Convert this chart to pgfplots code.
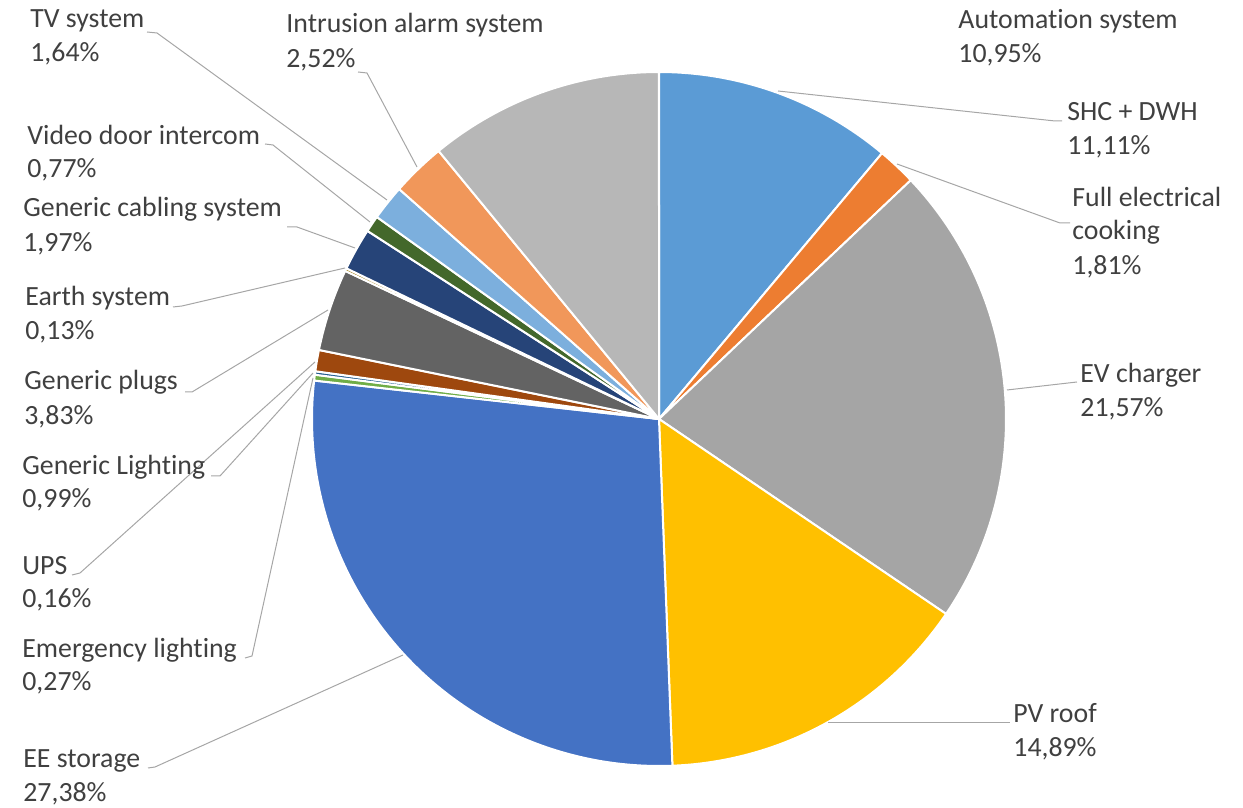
\documentclass[border=0pt]{standalone}
\usepackage{pgfplots}
\usepackage{pgfplotstable}
\pgfplotsset{compat=1.18}
\usepackage{fontspec}
\setmainfont{Carlito}[Ligatures=NoCommon]
\definecolor{c1}{HTML}{5B9BD5}
\definecolor{c2}{HTML}{ED7D31}
\definecolor{c3}{HTML}{A5A5A5}
\definecolor{c4}{HTML}{FFC000}
\definecolor{c5}{HTML}{4472C4}
\definecolor{c6}{HTML}{70AD47}
\definecolor{c7}{HTML}{255E91}
\definecolor{c8}{HTML}{9E480E}
\definecolor{c9}{HTML}{636363}
\definecolor{c10}{HTML}{997300}
\definecolor{c11}{HTML}{264478}
\definecolor{c12}{HTML}{43682B}
\definecolor{c13}{HTML}{7CAFDD}
\definecolor{c14}{HTML}{F1975A}
\definecolor{c15}{HTML}{B7B7B7}
\definecolor{txt}{HTML}{404040}
\definecolor{lead}{HTML}{A6A6A6}

% slices clockwise from 12 o'clock
\pgfplotstableread[col sep=comma]{
label,value,color
SHC + DWH,11.11,c1
Full electrical cooking,1.81,c2
EV charger,21.57,c3
PV roof,14.89,c4
EE storage,27.38,c5
Emergency lighting,0.27,c6
UPS,0.16,c7
Generic Lighting,0.99,c8
Generic plugs,3.83,c9
Earth system,0.13,c10
Generic cabling system,1.97,c11
Video door intercom,0.77,c12
TV system,1.64,c13
Intrusion alarm system,2.52,c14
Automation system,10.95,c15
}\piedata

\newcommand{\lab}{\fontsize{13.9}{16}\selectfont}

\begin{document}
\begin{tikzpicture}
\begin{axis}[
  x=0.5pt, y=0.5pt,
  xmin=0, xmax=1243, ymin=0, ymax=808,
  enlargelimits=false,
  hide axis, clip=false,
  at={(0,0)}, anchor=south west,
]
\pgfplotstablegetrowsof{\piedata}
\pgfmathtruncatemacro{\N}{\pgfplotsretval-1}
\xdef\cumangle{90}
\pgfplotsforeachungrouped \i in {0,...,\N}{%
  \pgfplotstablegetelem{\i}{value}\of\piedata \let\v\pgfplotsretval
  \pgfplotstablegetelem{\i}{color}\of\piedata \let\c\pgfplotsretval
  \pgfmathsetmacro{\a}{\cumangle}%
  \pgfmathsetmacro{\b}{\cumangle-\v*3.6/0.9999}%
  \edef\doslice{\noexpand\addplot[fill=\c, draw=white, line width=1pt, line join=round, domain=\b:\a, samples=90, smooth=false] ({659+347*cos(x)},{389+347*sin(x)}) -- (axis cs:659,389) -- cycle;}%
  \doslice
  \xdef\cumangle{\b}%
}

% leader lines
\begin{scope}[lead, line width=0.5pt]
\draw (axis cs:147,776) -- (axis cs:157,775) -- (axis cs:387,608);
\draw (axis cs:265,664) -- (axis cs:273,663) -- (axis cs:370,586);
\draw (axis cs:287,581) -- (axis cs:297,581) -- (axis cs:355,560);
\draw (axis cs:173,501) -- (axis cs:182,502) -- (axis cs:345,540);
\draw (axis cs:185,416) -- (axis cs:192,416) -- (axis cs:328,498);
\draw (axis cs:211,332) -- (axis cs:220,332) -- (axis cs:313,435);
\draw (axis cs:72,233) -- (axis cs:80,235) -- (axis cs:315,446);
\draw (axis cs:245,150) -- (axis cs:252,152) -- (axis cs:313,430);
\draw (axis cs:148,40) -- (axis cs:155,41) -- (axis cs:403,153);
\draw (axis cs:358,736) -- (axis cs:367,735) -- (axis cs:417,641);
\draw (axis cs:778,717) -- (axis cs:1055,687) -- (axis cs:1062,687);
\draw (axis cs:897,644) -- (axis cs:1060,585) -- (axis cs:1070,585);
\draw (axis cs:1007,418) -- (axis cs:1077,426);
\draw (axis cs:828,85) -- (axis cs:1010,85);
\end{scope}

% labels
\begin{scope}[every node/.style={anchor=base west, inner sep=0pt, text=txt, font=\lab}]
\node at (axis cs:30,780) {TV system};
\node at (axis cs:30,746) {1,64\%};
\node at (axis cs:286,775) {Intrusion alarm system};
\node at (axis cs:286,740) {2,52\%};
\node at (axis cs:958,779) {Automation system};
\node at (axis cs:958,745) {10,95\%};
\node at (axis cs:1067,687) {SHC + DWH};
\node at (axis cs:1067,653) {11,11\%};
\node at (axis cs:1072,601) {Full electrical};
\node at (axis cs:1072,568) {cooking};
\node at (axis cs:1072,533) {1,81\%};
\node at (axis cs:1080,425) {EV charger};
\node at (axis cs:1080,391) {21,57\%};
\node at (axis cs:1013,85) {PV roof};
\node at (axis cs:1013,51) {14,89\%};
\node at (axis cs:27,663) {Video door intercom};
\node at (axis cs:27,630) {0,77\%};
\node at (axis cs:23,591) {Generic cabling system};
\node at (axis cs:23,556) {1,97\%};
\node at (axis cs:25,502) {Earth system};
\node at (axis cs:25,468) {0,13\%};
\node at (axis cs:24,418) {Generic plugs};
\node at (axis cs:24,383) {3,83\%};
\node at (axis cs:22,333) {Generic Lighting};
\node at (axis cs:22,300) {0,99\%};
\node at (axis cs:22,233) {UPS};
\node at (axis cs:22,200) {0,16\%};
\node at (axis cs:22,150) {Emergency lighting};
\node at (axis cs:22,117) {0,27\%};
\node at (axis cs:23,40) {EE storage};
\node at (axis cs:23,6) {27,38\%};
\end{scope}
\end{axis}
\pgfresetboundingbox
\path (0,0) rectangle (621.5pt,404pt);
\end{tikzpicture}
\end{document}
